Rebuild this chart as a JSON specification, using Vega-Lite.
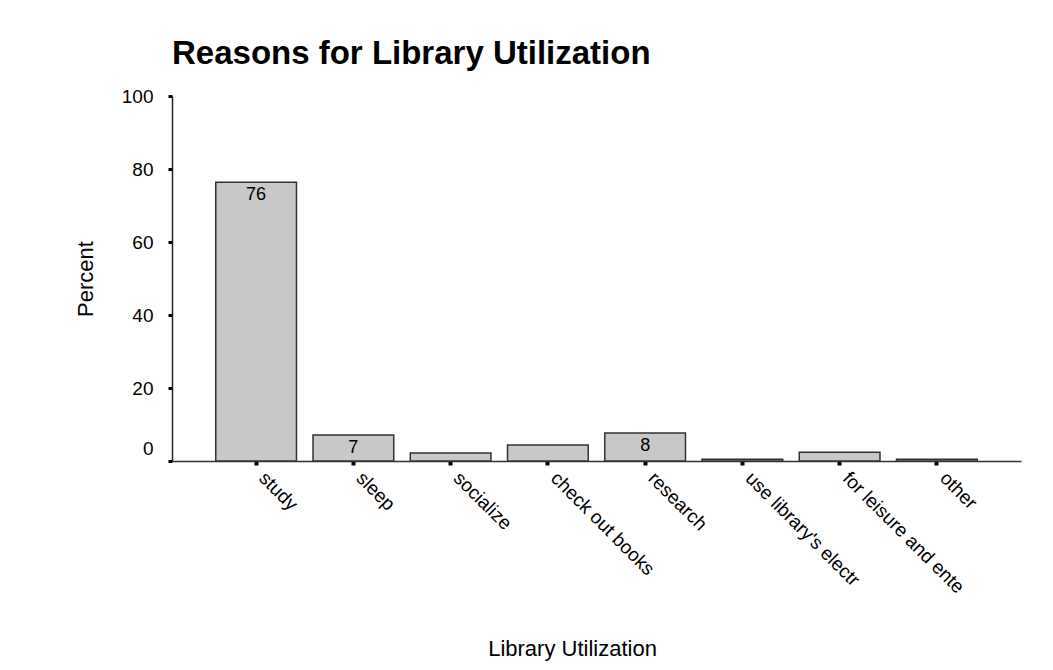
{
  "$schema": "https://vega.github.io/schema/vega-lite/v6.json",
  "autosize": "none",
  "width": 849,
  "height": 365,
  "padding": {"left": 172, "top": 96, "right": 32, "bottom": 209},
  "background": "white",
  "config": {
    "view": {"stroke": null},
    "font": "Liberation Sans"
  },
  "title": {
    "text": "Reasons for Library Utilization",
    "anchor": "start",
    "frame": "group",
    "font": "Liberation Sans",
    "fontSize": 33,
    "fontWeight": "bold",
    "color": "black",
    "baseline": "alphabetic",
    "offset": -10
  },
  "data": {
    "values": [
      {"reason": "study", "pct": 76.4},
      {"reason": "sleep", "pct": 7.1},
      {"reason": "socialize", "pct": 2.2},
      {"reason": "check out books", "pct": 4.4},
      {"reason": "research", "pct": 7.7},
      {"reason": "use library's electr", "pct": 0.5},
      {"reason": "for leisure and ente", "pct": 2.4},
      {"reason": "other", "pct": 0.5}
    ]
  },
  "encoding": {
    "x": {
      "field": "reason",
      "type": "nominal",
      "sort": null,
      "scale": {"paddingInner": 0.17, "paddingOuter": 0.45},
      "axis": {
        "title": "Library Utilization",
        "titleFont": "Liberation Sans",
        "titleFontSize": 22,
        "titleFontWeight": "normal",
        "titleColor": "black",
        "titleX": 400,
        "titleY": 187,
        "titleAlign": "center",
        "titleBaseline": "middle",
        "labelAngle": 45,
        "labelAlign": "left",
        "labelBaseline": "alphabetic",
        "labelPadding": 14,
        "labelOffset": 2,
        "labelFont": "Liberation Sans",
        "labelFontSize": 19,
        "labelColor": "black",
        "labelLimit": 300,
        "tickSize": 4,
        "tickWidth": 4,
        "tickColor": "black",
        "domainColor": "#333333",
        "domainWidth": 1.5
      }
    },
    "y": {
      "field": "pct",
      "type": "quantitative",
      "scale": {"domain": [0, 100], "nice": false},
      "axis": {
        "title": "Percent",
        "titleFont": "Liberation Sans",
        "titleFontSize": 22,
        "titleFontWeight": "normal",
        "titleColor": "black",
        "titleAngle": -90,
        "titleX": -87,
        "titleY": 182.5,
        "titleAlign": "center",
        "titleBaseline": "middle",
        "values": [0, 20, 40, 60, 80, 100],
        "grid": false,
        "labelFont": "Liberation Sans",
        "labelFontSize": 19,
        "labelColor": "black",
        "labelPadding": 15,
        "labelOffset": {"condition": {"test": "datum.value === 0", "value": -13}, "value": 0},
        "tickSize": 4,
        "tickWidth": 3,
        "tickColor": "black",
        "domainColor": "#222222",
        "domainWidth": 1.5
      }
    }
  },
  "layer": [
    {
      "mark": {"type": "bar", "fill": "#c8c8c8", "stroke": "#333333", "strokeWidth": 1.5}
    },
    {
      "transform": [{"filter": "datum.pct >= 5"}],
      "mark": {"type": "text", "baseline": "middle", "dy": 13, "font": "Liberation Sans", "fontSize": 18, "color": "black"},
      "encoding": {
        "text": {"field": "pct", "type": "quantitative", "format": ".0f"}
      }
    }
  ]
}
